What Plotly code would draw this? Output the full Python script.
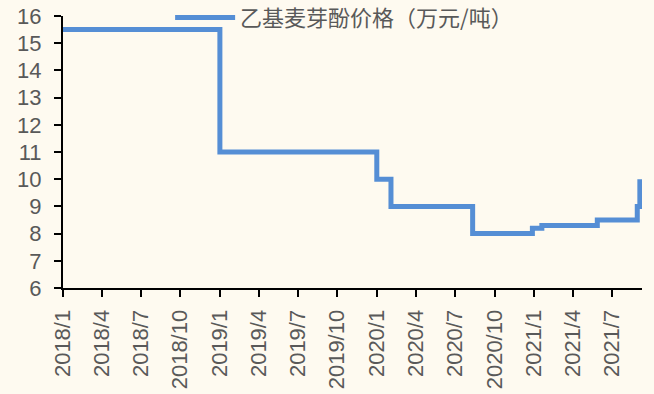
import plotly.graph_objects as go

# Data (change points of a step series)
dates = ["2018-01-01", "2019-01-01", "2020-01-01", "2020-02-03", "2020-08-11",
         "2020-12-28", "2021-01-19", "2021-05-28", "2021-08-29", "2021-09-04"]
prices = [15.5, 11.0, 10.0, 9.0, 8.0, 8.2, 8.3, 8.5, 9.0, 10.0]

tick_vals = ["2018-01-01", "2018-04-01", "2018-07-01", "2018-10-01",
             "2019-01-01", "2019-04-01", "2019-07-01", "2019-10-01",
             "2020-01-01", "2020-04-01", "2020-07-01", "2020-10-01",
             "2021-01-01", "2021-04-01", "2021-07-01"]
tick_text = ["2018/1", "2018/4", "2018/7", "2018/10",
             "2019/1", "2019/4", "2019/7", "2019/10",
             "2020/1", "2020/4", "2020/7", "2020/10",
             "2021/1", "2021/4", "2021/7"]
y_ticks = list(range(6, 17))

series_name = "乙基麦芽酚价格（万元/吨）"

BG = "#FEFAF0"
GRAY = "#595959"
FONT = "Liberation Sans, Arial, Noto Sans CJK SC, sans-serif"

fig = go.Figure()
fig.add_trace(go.Scatter(
    x=dates, y=prices, mode="lines", name=series_name,
    line=dict(color="#558ED5", width=5, shape="hv"),
))

fig.update_layout(
    width=654, height=394,
    paper_bgcolor=BG, plot_bgcolor=BG,
    margin=dict(l=63, r=12, t=16, b=106, autoexpand=False),
    font=dict(family=FONT, color=GRAY),
    showlegend=True,
    legend=dict(
        orientation="h", x=0.185, y=0.994, xanchor="left", yanchor="middle",
        bgcolor="rgba(0,0,0,0)", itemwidth=60,
        font=dict(size=22, color=GRAY, family="Noto Sans CJK SC, sans-serif"),
    ),
    xaxis=dict(
        type="date", range=["2018-01-01", "2021-09-09"],
        tickvals=tick_vals, ticktext=tick_text, tickangle=-90,
        showgrid=False, zeroline=False,
        showline=True, linecolor="black", linewidth=2,
        ticks="outside", ticklen=7, tickcolor="black", tickwidth=2,
        ticklabelstandoff=4,
        tickfont=dict(size=22, color=GRAY, family=FONT),
    ),
    yaxis=dict(
        range=[6, 16], tickvals=y_ticks,
        showgrid=False, zeroline=False,
        showline=True, linecolor="black", linewidth=2,
        ticks="outside", ticklen=7, tickcolor="black", tickwidth=2,
        ticklabelstandoff=8,
        tickfont=dict(size=22, color=GRAY, family=FONT),
    ),
)

fig.write_html("out.html")
